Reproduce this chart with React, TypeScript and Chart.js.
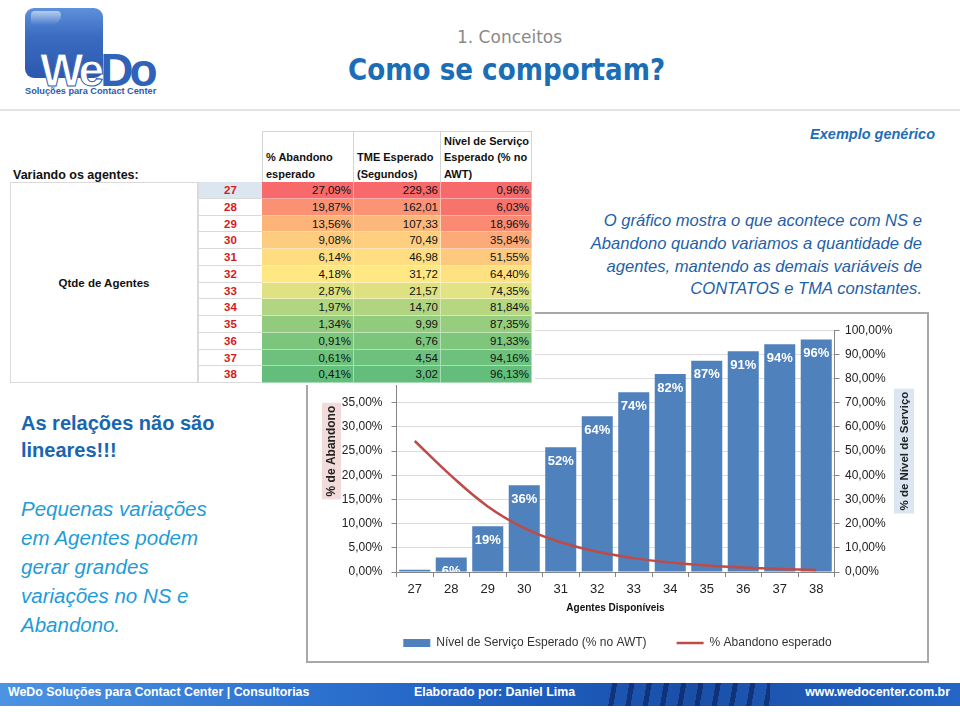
import React, { useEffect, useRef } from 'react';
import { Chart, registerables } from 'chart.js';

Chart.register(...registerables);

// ---------- data ----------
const agentes = ['27', '28', '29', '30', '31', '32', '33', '34', '35', '36', '37', '38'];
const abandonoEsperado = [27.09, 19.87, 13.56, 9.08, 6.14, 4.18, 2.87, 1.97, 1.34, 0.91, 0.61, 0.41];
const tmeEsperado = [229.36, 162.01, 107.33, 70.49, 46.98, 31.72, 21.57, 14.7, 9.99, 6.76, 4.54, 3.02];
const nivelServico = [0.96, 6.03, 18.96, 35.84, 51.55, 64.4, 74.35, 81.84, 87.35, 91.33, 94.16, 96.13];

const serieBarra = 'Nível de Serviço Esperado (% no AWT)';
const serieLinha = '% Abandono esperado';
const tituloEixoEsq = '% de Abandono';
const tituloEixoDir = '% de Nível de Serviço';
const tituloEixoX = 'Agentes Disponíveis';

const FONT = "'Liberation Sans', Arial, sans-serif";

const fmtPct = (v: number) => v.toFixed(2).replace('.', ',') + '%';
const fmtNum = (v: number) => v.toFixed(2).replace('.', ',');

// Excel-like 3 colour scale
const RED = [248, 105, 107];
const YEL = [255, 235, 132];
const GRN = [99, 190, 123];
function mix(a: number[], b: number[], t: number) {
  return `rgb(${a.map((v, i) => Math.round(v + (b[i] - v) * t)).join(',')})`;
}
function median(arr: number[]) {
  const s = [...arr].sort((a, b) => a - b);
  const n = s.length;
  return n % 2 ? s[(n - 1) / 2] : (s[n / 2 - 1] + s[n / 2]) / 2;
}
function scaleColor(v: number, arr: number[], highGood: boolean) {
  const mn = Math.min(...arr);
  const mx = Math.max(...arr);
  const md = median(arr);
  const lowC = highGood ? RED : GRN;
  const highC = highGood ? GRN : RED;
  if (v >= md) return mix(YEL, highC, (v - md) / (mx - md));
  return mix(YEL, lowC, (md - v) / (md - mn));
}

// ---------- chart ----------
function ChartBox() {
  const ref = useRef<HTMLCanvasElement | null>(null);
  useEffect(() => {
    if (!ref.current) return;

    const titleBg = {
      id: 'titleBg',
      beforeDraw(chart: any) {
        const { ctx, chartArea, scales } = chart;
        const cy = (chartArea.top + chartArea.bottom) / 2;
        ctx.save();
        ctx.font = `bold 12px ${FONT}`;
        const w1 = ctx.measureText(tituloEixoEsq).width + 6;
        ctx.fillStyle = '#F2DCDB';
        ctx.fillRect(scales.y.left + 14, cy - w1 / 2, 19, w1);
        ctx.font = `bold 11.5px ${FONT}`;
        const w2 = ctx.measureText(tituloEixoDir).width + 6;
        const rx = scales.y1.right - 23;
        ctx.fillStyle = '#DCE6F2';
        ctx.fillRect(rx - 10, cy - w2 / 2, 20, w2);
        ctx.translate(rx, cy);
        ctx.rotate(-Math.PI / 2);
        ctx.fillStyle = '#222';
        ctx.textAlign = 'center';
        ctx.textBaseline = 'middle';
        ctx.fillText(tituloEixoDir, 0, 1);
        ctx.restore();
      },
    };

    const barLabels = {
      id: 'barLabels',
      afterDatasetsDraw(chart: any) {
        const { ctx, chartArea } = chart;
        const meta = chart.getDatasetMeta(0);
        const data = chart.data.datasets[0].data as number[];
        ctx.save();
        ctx.beginPath();
        ctx.rect(chartArea.left, chartArea.top, chartArea.right - chartArea.left, chartArea.bottom - chartArea.top);
        ctx.clip();
        ctx.font = `bold 13px ${FONT}`;
        ctx.fillStyle = '#ffffff';
        ctx.textAlign = 'center';
        ctx.textBaseline = 'middle';
        meta.data.forEach((el: any, i: number) => {
          ctx.fillText(Math.round(data[i]) + '%', el.x, el.y + 14);
        });
        ctx.restore();
      },
    };

    const chart = new Chart(ref.current, {
      type: 'bar',
      data: {
        labels: agentes,
        datasets: [
          {
            type: 'bar',
            label: serieBarra,
            data: nivelServico,
            yAxisID: 'y1',
            backgroundColor: '#4F81BD',
            borderWidth: 0,
            barPercentage: 0.85,
            categoryPercentage: 1,
            order: 2,
            pointStyle: 'rect',
          } as any,
          {
            type: 'line',
            label: serieLinha,
            data: abandonoEsperado,
            yAxisID: 'y',
            borderColor: '#BE4B48',
            backgroundColor: '#BE4B48',
            borderWidth: 2.5,
            pointRadius: 0,
            tension: 0.4,
            order: 1,
            pointStyle: 'line',
          } as any,
        ],
      },
      options: {
        responsive: false,
        animation: false,
        layout: { padding: { top: 13.5, left: 0, right: 0, bottom: 2 } },
        plugins: {
          legend: {
            position: 'bottom',
            labels: {
              usePointStyle: true,
              pointStyleWidth: 27,
              boxHeight: 8,
              padding: 30,
              color: '#333',
              font: { family: FONT, size: 12 },
              sort: (a: any, b: any) => a.datasetIndex - b.datasetIndex,
            },
          },
          tooltip: { enabled: false },
        },
        scales: {
          x: {
            grid: { drawOnChartArea: false, tickLength: 5, tickColor: '#868686', offset: true },
            border: { color: '#868686' },
            ticks: { color: '#222', font: { family: FONT, size: 13 }, padding: 5 },
            title: {
              display: true,
              text: tituloEixoX,
              color: '#111',
              font: { family: FONT, size: 10, weight: 'bold' },
              padding: { top: 0, bottom: -7 },
            },
            afterFit: (s: any) => {
              s.height = 35;
            },
          },
          y: {
            position: 'left',
            min: 0,
            max: 50,
            ticks: {
              stepSize: 5,
              color: '#222',
              padding: 9,
              font: { family: FONT, size: 12 },
              callback: (v: any) => fmtPct(Number(v)),
            },
            afterBuildTicks: (s: any) => {
              s.ticks = s.ticks.filter((t: any) => t.value <= 35);
            },
            grid: { drawOnChartArea: false, tickLength: 5, tickColor: '#868686' },
            border: { color: '#868686' },
            title: {
              display: true,
              text: tituloEixoEsq,
              color: '#222',
              font: { family: FONT, size: 12, weight: 'bold' },
              padding: { top: 16.3, bottom: 0 },
            },
            afterFit: (s: any) => {
              s.width = 88.5;
            },
          },
          y1: {
            position: 'right',
            min: 0,
            max: 100,
            ticks: {
              stepSize: 10,
              color: '#222',
              padding: 5.5,
              font: { family: FONT, size: 12 },
              callback: (v: any) => fmtPct(Number(v)),
            },
            grid: { color: '#DCDCDC', tickColor: '#868686', tickLength: 5 },
            border: { color: '#868686' },
            afterFit: (s: any) => {
              s.width = 92.5;
            },
          },
        },
      } as any,
      plugins: [titleBg, barLabels],
    });
    return () => chart.destroy();
  }, []);

  return (
    <div
      style={{
        position: 'absolute',
        left: 306,
        top: 312,
        width: 623,
        height: 351,
        boxSizing: 'border-box',
        border: '2px solid #A8A8A8',
        background: '#fff',
        zIndex: 1,
      }}
    >
      <canvas ref={ref} width={619} height={347} style={{ display: 'block', width: 619, height: 347 }} />
    </div>
  );
}

// ---------- table ----------
const ROW_TOP = 182;
const ROW_H = 16.75;
const colDefs = [
  { x: 262, w: 92, head: ['% Abandono', 'esperado'], values: abandonoEsperado, fmt: fmtPct, highGood: false },
  { x: 354, w: 87, head: ['TME Esperado', '(Segundos)'], values: tmeEsperado, fmt: fmtNum, highGood: false },
  { x: 441, w: 91, head: ['Nível de Serviço', 'Esperado (% no', 'AWT)'], values: nivelServico, fmt: fmtPct, highGood: true },
];

function Tabela() {
  const cells: any[] = [];
  colDefs.forEach((c, ci) => {
    cells.push(
      <div
        key={'h' + ci}
        style={{
          position: 'absolute',
          left: c.x,
          top: 131,
          width: c.w,
          height: 51,
          boxSizing: 'border-box',
          borderTop: '1px solid #D4D4D4',
          borderRight: '1px solid #D4D4D4',
          borderLeft: ci === 0 ? '1px solid #D4D4D4' : undefined,
          display: 'flex',
          flexDirection: 'column',
          justifyContent: 'flex-end',
          paddingLeft: 3,
          font: `bold 11px ${FONT}`,
          lineHeight: '16.5px',
          color: '#111',
          whiteSpace: 'nowrap',
        }}
      >
        {c.head.map((h, i) => (
          <div key={i}>{h}</div>
        ))}
      </div>
    );
    c.values.forEach((v, ri) => {
      cells.push(
        <div
          key={'c' + ci + '_' + ri}
          style={{
            position: 'absolute',
            left: c.x,
            top: ROW_TOP + ri * ROW_H,
            width: c.w,
            height: ROW_H,
            boxSizing: 'border-box',
            background: scaleColor(v, c.values, c.highGood),
            borderBottom: '1px solid rgba(255,255,255,0.45)',
            borderRight: '1px solid rgba(255,255,255,0.45)',
            textAlign: 'right',
            paddingRight: 2,
            font: `11.5px ${FONT}`,
            lineHeight: ROW_H + 'px',
            color: '#111',
          }}
        >
          {c.fmt(v)}
        </div>
      );
    });
  });
  agentes.forEach((a, ri) => {
    cells.push(
      <div
        key={'n' + ri}
        style={{
          position: 'absolute',
          left: 198,
          top: ROW_TOP + ri * ROW_H,
          width: 64,
          height: ROW_H,
          boxSizing: 'border-box',
          background: ri === 0 ? '#DCE6F1' : '#fff',
          borderBottom: '1px solid #DADADA',
          borderLeft: '1px solid #DADADA',
          textAlign: 'center',
          font: `bold 11.5px ${FONT}`,
          lineHeight: ROW_H + 'px',
          color: '#D7191C',
        }}
      >
        {a}
      </div>
    );
  });
  return (
    <div style={{ position: 'absolute', left: 0, top: 0, width: 0, height: 0, zIndex: 2 }}>
      <div style={{ position: 'absolute', left: 8, top: 126, width: 527, height: 259, background: '#fff' }} />
      <div
        style={{
          position: 'absolute',
          left: 13,
          top: 167,
          font: `bold 12.5px ${FONT}`,
          lineHeight: '16px',
          color: '#111',
          whiteSpace: 'nowrap',
        }}
      >
        Variando os agentes:
      </div>
      <div
        style={{
          position: 'absolute',
          left: 10,
          top: ROW_TOP,
          width: 188,
          height: ROW_H * 12,
          boxSizing: 'border-box',
          border: '1px solid #DADADA',
          display: 'flex',
          alignItems: 'center',
          justifyContent: 'center',
          font: `bold 11.5px ${FONT}`,
          color: '#111',
        }}
      >
        Qtde de Agentes
      </div>
      {cells}
    </div>
  );
}

// ---------- slide ----------
function Txt(props: { x?: number; r?: number; y: number; lh: number; style: any; children: any }) {
  const s: any = {
    position: 'absolute',
    top: props.y - props.lh / 2,
    lineHeight: props.lh + 'px',
    whiteSpace: 'nowrap',
    ...props.style,
  };
  if (props.x !== undefined) s.left = props.x;
  if (props.r !== undefined) s.right = 960 - props.r;
  return <div style={s}>{props.children}</div>;
}

export default function App() {
  const pLines = [
    'O gráfico mostra o que acontece com NS e',
    'Abandono quando variamos a quantidade de',
    'agentes, mantendo as demais variáveis de',
    'CONTATOS e TMA constantes.',
  ];
  const leftItalic = ['Pequenas variações', 'em Agentes podem', 'gerar grandes', 'variações no NS e', 'Abandono.'];
  return (
    <div
      style={{
        position: 'absolute',
        left: 0,
        top: 0,
        width: 960,
        height: 712,
        overflow: 'hidden',
        background: '#fff',
        fontFamily: FONT,
      }}
    >
      {/* logo */}
      <div
        style={{
          position: 'absolute',
          left: 25,
          top: 8,
          width: 78,
          height: 70,
          borderRadius: 9,
          background: 'linear-gradient(180deg,#5E91DA 0%,#3A6CC2 40%,#2C58AE 100%)',
        }}
      />
      <div
        style={{
          position: 'absolute',
          left: 31,
          top: 11,
          width: 30,
          height: 14,
          borderRadius: '8px 8px 20px 4px',
          background: 'linear-gradient(180deg,rgba(255,255,255,0.55),rgba(255,255,255,0))',
        }}
      />
      <div
        style={{
          position: 'absolute',
          left: 40,
          top: 47,
          font: `bold 46px ${FONT}`,
          lineHeight: '46px',
          letterSpacing: -4,
          whiteSpace: 'nowrap',
        }}
      >
        <span style={{ color: '#fff', WebkitTextStroke: '1px #2F5FB0' }}>We</span>
        <span style={{ color: '#2F62B8' }}>Do</span>
      </div>
      <Txt x={25} y={92} lh={12} style={{ font: `bold 9.2px ${FONT}`, color: '#2B5CAB' }}>
        Soluções para Contact Center
      </Txt>

      {/* header */}
      <Txt x={457} y={38} lh={22} style={{ font: `17px 'DejaVu Sans', sans-serif`, color: '#8A8A8A' }}>
        1. Conceitos
      </Txt>
      <div
        style={{
          position: 'absolute',
          left: 348,
          top: 52,
          font: `bold 31px 'DejaVu Sans', sans-serif`,
          lineHeight: '34px',
          color: '#1B6DB5',
          whiteSpace: 'nowrap',
          transform: 'scaleX(0.845)',
          transformOrigin: 'left top',
        }}
      >
        Como se comportam?
      </div>
      <div style={{ position: 'absolute', left: 0, top: 109, width: 960, height: 2, background: '#E4E4E4' }} />

      <Txt r={935} y={135} lh={18} style={{ font: `italic bold 14.5px ${FONT}`, color: '#1F6EB5' }}>
        Exemplo genérico
      </Txt>

      {pLines.map((t, i) => (
        <Txt key={i} r={922} y={222 + i * 22.8} lh={22} style={{ font: `italic 16.6px ${FONT}`, color: '#1F5FA8' }}>
          {t}
        </Txt>
      ))}

      <Txt x={21} y={425} lh={26} style={{ font: `bold 20px ${FONT}`, color: '#1866B0' }}>
        As relações não são
      </Txt>
      <Txt x={21} y={452} lh={26} style={{ font: `bold 20px ${FONT}`, color: '#1866B0' }}>
        lineares!!!
      </Txt>
      {leftItalic.map((t, i) => (
        <Txt key={i} x={21} y={511 + i * 29} lh={28} style={{ font: `italic 20.5px ${FONT}`, color: '#1E9CD8' }}>
          {t}
        </Txt>
      ))}

      <ChartBox />
      <Tabela />

      {/* footer */}
      <div
        style={{
          position: 'absolute',
          left: 0,
          top: 683,
          width: 960,
          height: 23,
          background: 'linear-gradient(90deg,#4C93E2 0%,#2F74D0 30%,#1E5DBE 55%,#1A4FA8 72%,#2466C6 100%)',
        }}
      />
      <div
        style={{
          position: 'absolute',
          left: 600,
          top: 683,
          width: 170,
          height: 23,
          background:
            'repeating-linear-gradient(100deg, rgba(0,0,0,0) 0px, rgba(0,0,0,0) 12px, rgba(8,25,80,0.55) 12px, rgba(8,25,80,0.55) 17px)',
        }}
      />
      <Txt x={8} y={694.5} lh={20} style={{ font: `bold 12.4px ${FONT}`, color: '#fff' }}>
        WeDo Soluções para Contact Center | Consultorias
      </Txt>
      <Txt x={414} y={694.5} lh={20} style={{ font: `bold 12.4px ${FONT}`, color: '#fff' }}>
        Elaborado por: Daniel Lima
      </Txt>
      <Txt r={950} y={694.5} lh={20} style={{ font: `bold 12.4px ${FONT}`, color: '#fff' }}>
        www.wedocenter.com.br
      </Txt>
    </div>
  );
}
